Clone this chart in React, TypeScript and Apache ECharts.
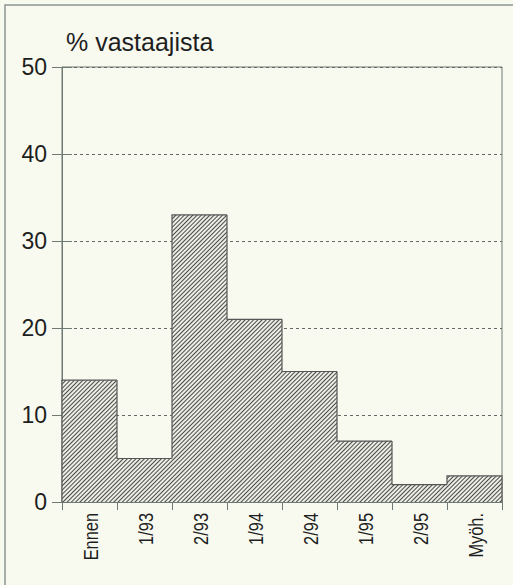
import React, { useEffect, useRef } from "react";
import * as echarts from "echarts";

const categories = ["Ennen", "1/93", "2/93", "1/94", "2/94", "1/95", "2/95", "Myöh."];
const values = [14, 5, 33, 21, 15, 7, 2, 3];
const yTicks = { min: 0, max: 50, interval: 10 };
const yTitle = "% vastaajista";

export default function App() {
  const ref = useRef<HTMLDivElement>(null);
  useEffect(() => {
    document.body.style.margin = "0";
    const chart = echarts.init(ref.current!, null, { renderer: "svg" });
    const axisColor = "#6f7a74";
    const textColor = "#1e1e1e";
    const font = "'Liberation Sans', Arial, sans-serif";
    const outlineData = values.map((v, i) => [i, v, i > 0 ? values[i - 1] : 0]);
    const labelData = categories.map((c, i) => [i, 0]);
    chart.setOption({
      animation: false,
      backgroundColor: "#f8faf0",
      title: {
        text: yTitle,
        left: 66,
        top: 29,
        padding: 0,
        textStyle: { fontSize: 25, fontWeight: "normal", color: textColor, fontFamily: font },
      },
      graphic: [
        {
          type: "polyline",
          shape: { points: [[5, 585], [5, 5], [513, 5]] },
          style: { stroke: "#8d9792", lineWidth: 1.5, fill: "none" },
        },
      ],
      grid: {
        left: 62,
        right: 11,
        top: 67,
        bottom: 83,
        show: true,
        borderColor: axisColor,
        borderWidth: 1,
        backgroundColor: "transparent",
      },
      xAxis: {
        type: "category",
        data: categories,
        boundaryGap: true,
        axisLine: { lineStyle: { color: axisColor, width: 1 } },
        axisTick: { show: true, length: 8, lineStyle: { color: axisColor } },
        axisLabel: { show: false },
        splitLine: { show: false },
      },
      yAxis: [
        {
          type: "value",
          ...yTicks,
          axisLine: { show: true, lineStyle: { color: axisColor, width: 1 } },
          axisTick: { show: true, length: 10, inside: false, lineStyle: { color: axisColor } },
          axisLabel: { margin: 15, fontSize: 23, color: textColor, fontFamily: font },
          splitLine: { show: true, lineStyle: { color: "#666", type: [3, 3], width: 1 } },
        },
        {
          type: "value",
          ...yTicks,
          position: "left",
          axisLine: { show: false },
          axisTick: { show: true, length: 10, inside: true, lineStyle: { color: axisColor } },
          axisLabel: { show: false },
          splitLine: { show: false },
        },
      ],
      series: [
        {
          type: "bar",
          data: values,
          barCategoryGap: "0%",
          barWidth: "100%",
          itemStyle: {
            color: "#eceee4",
            decal: {
              symbol: "rect",
              symbolSize: 1,
              dashArrayX: [1, 0],
              dashArrayY: [1, 2],
              rotation: -Math.PI / 4,
              color: "#4a4a4a",
            },
          },
          z: 2,
        },
        {
          type: "custom",
          data: outlineData,
          z: 3,
          renderItem: (params: any, api: any) => {
            const i = api.value(0);
            const v = api.value(1);
            const prev = api.value(2);
            const c = api.coord([i, v]);
            const w = api.size([1, 0])[0];
            const left = c[0] - w / 2;
            const right = c[0] + w / 2;
            const yPrev = api.coord([i, prev])[1];
            const y0 = api.coord([i, 0])[1];
            const pts: number[][] = [[left, yPrev], [left, c[1]], [right, c[1]]];
            if (params.dataIndex === values.length - 1) pts.push([right, y0]);
            return {
              type: "polyline",
              shape: { points: pts },
              style: { stroke: "#555", lineWidth: 1.2, fill: "none" },
            };
          },
        },
        {
          type: "custom",
          data: labelData,
          z: 3,
          clip: false,
          renderItem: (params: any, api: any) => {
            const i = api.value(0);
            const c = api.coord([i, 0]);
            return {
              type: "text",
              x: c[0] + 1,
              y: c[1] + 11,
              rotation: Math.PI / 2,
              scaleX: 0.78,
              style: {
                text: categories[i],
                fontSize: 21,
                fontFamily: font,
                fill: textColor,
                align: "right",
                verticalAlign: "middle",
              },
            };
          },
        },
      ],
    });
    return () => chart.dispose();
  }, []);
  return <div ref={ref} style={{ width: 513, height: 585, position: "fixed", left: 0, top: 0 }} />;
}
